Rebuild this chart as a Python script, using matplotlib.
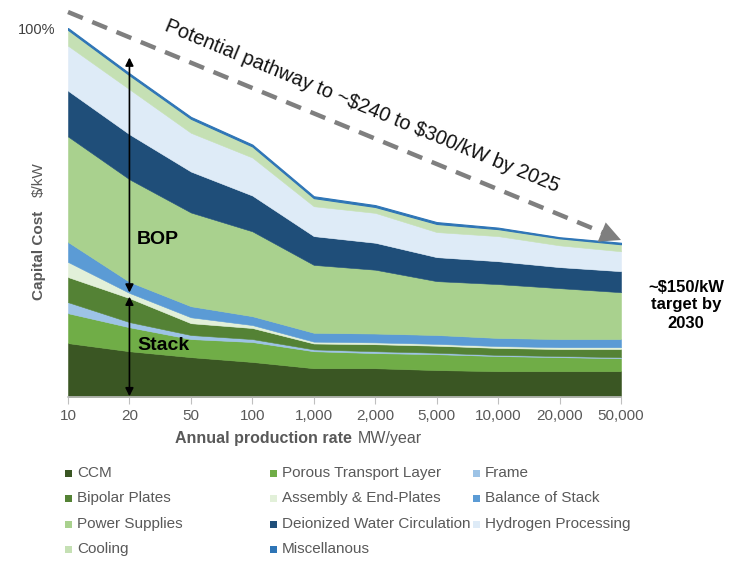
import matplotlib
matplotlib.use("Agg")
import matplotlib.pyplot as plt
from matplotlib.patches import Rectangle, FancyArrowPatch
from matplotlib.lines import Line2D

plt.rcParams['font.family'] = ['Liberation Sans', 'DejaVu Sans']

rates = ["10", "20", "50", "100", "1,000", "2,000", "5,000", "10,000", "20,000", "50,000"]
ccm      = [14.6, 12.4, 10.8, 9.5, 7.8, 7.8, 7.3, 7.0, 7.0, 7.0]
ptl      = [8.1, 6.5, 4.9, 5.4, 4.6, 4.1, 4.3, 4.1, 3.8, 3.5]
frame    = [3.0, 1.4, 1.1, 0.8, 0.5, 0.5, 0.4, 0.3, 0.3, 0.3]
bipolar  = [6.8, 6.5, 3.2, 3.0, 1.6, 1.9, 1.9, 1.9, 1.9, 2.2]
assembly = [4.1, 1.4, 1.6, 0.8, 0.5, 0.5, 0.5, 0.5, 0.5, 0.5]
bos      = [5.4, 3.0, 3.0, 2.4, 2.4, 2.4, 2.4, 2.2, 2.2, 2.2]
power    = [28.6, 27.8, 25.4, 23.0, 18.4, 17.3, 14.6, 14.6, 13.8, 12.7]
diwater  = [12.4, 12.2, 11.1, 9.7, 7.8, 7.3, 6.5, 6.2, 5.7, 5.7]
h2proc   = [12.2, 12.2, 10.5, 10.3, 8.1, 8.1, 6.8, 6.8, 5.9, 5.4]
cooling  = [4.3, 3.8, 3.8, 3.0, 2.2, 1.6, 2.2, 1.9, 1.9, 1.9]
misc     = [0.5, 0.5, 0.5, 0.5, 0.5, 0.5, 0.5, 0.4, 0.3, 0.4]

labels = ["CCM", "Porous Transport Layer", "Frame", "Bipolar Plates",
          "Assembly & End-Plates", "Balance of Stack", "Power Supplies",
          "Deionized Water Circulation", "Hydrogen Processing", "Cooling",
          "Miscellanous"]
series = [ccm, ptl, frame, bipolar, assembly, bos, power, diwater, h2proc, cooling, misc]
colors = ["#3A5623", "#70AD47", "#9DC3E6", "#548235", "#E2F0D9", "#5B9BD5",
          "#A9D18E", "#1F4E79", "#DEEBF7", "#C5E0B4", "#2E75B6"]

W, H = 742, 561
fig = plt.figure(figsize=(W / 100, H / 100), dpi=100)

def fx(px):
    return px / W

def fy(py):
    return 1 - py / H

ax = fig.add_axes([fx(68), fy(397), fx(621) - fx(68), fy(28) - fy(397)])
x = list(range(len(rates)))
polys = ax.stackplot(x, *series, colors=colors, labels=labels)
for p, c in zip(polys, colors):
    p.set_edgecolor(c)
    p.set_linewidth(0.4)
polys[-1].set_linewidth(0.8)

ax.set_xlim(0, len(rates) - 1)
ax.set_ylim(0, 100)
ax.set_xticks(x)
ax.set_xticklabels(rates, fontsize=11, color="#595959")
ax.set_yticks([100])
ax.set_yticklabels(["100%"], fontsize=10.5, color="#404040")
ax.tick_params(axis="y", length=0, pad=9)
ax.tick_params(axis="x", length=5, color="#BFBFBF", pad=4)
for s in ["top", "right", "left"]:
    ax.spines[s].set_visible(False)
ax.spines["bottom"].set_color("#BFBFBF")
ax.spines["bottom"].set_linewidth(1.2)
ax.set_facecolor("none")

# BOP / Stack arrows
ax.annotate("", xy=(1, 28.3), xytext=(1, 92.0),
            arrowprops=dict(arrowstyle="<|-|>", color="black", lw=1.2,
                            mutation_scale=12, shrinkA=0, shrinkB=0))
ax.annotate("", xy=(1, 0.2), xytext=(1, 27.2),
            arrowprops=dict(arrowstyle="<|-|>", color="black", lw=1.2,
                            mutation_scale=12, shrinkA=0, shrinkB=0))
fig.text(fx(137), fy(239), "BOP", fontsize=14, fontweight="bold", ha="left", va="center")
fig.text(fx(137), fy(345), "Stack", fontsize=14, fontweight="bold", ha="left", va="center")

# Dashed pathway arrow
x0, y0, x1, y1 = 68, 12, 621, 240
dx, dy = x1 - x0, y1 - y0
L = (dx ** 2 + dy ** 2) ** 0.5
ux, uy = dx / L, dy / L
hx, hy = x1 - 16 * ux, y1 - 16 * uy
fig.add_artist(Line2D([fx(x0), fx(hx)], [fy(y0), fy(hy)], color="#7F7F7F", lw=3.2,
                      linestyle=(0, (3.6, 2.3)), transform=fig.transFigure))
fig.add_artist(FancyArrowPatch(
    (fx(hx - 2 * ux), fy(hy - 2 * uy)), (fx(x1), fy(y1)), transform=fig.transFigure,
    arrowstyle="simple,head_length=1.0,head_width=1.0,tail_width=0.3",
    mutation_scale=15, color="#7F7F7F", lw=0, shrinkA=0, shrinkB=0))
fig.text(fx(362), fy(106), r"Potential pathway to ~\$240 to \$300/kW by 2025",
         fontsize=14.4, rotation=-22.4, rotation_mode="anchor",
         ha="center", va="center", color="#111111")

# Target text
fig.text(fx(686), fy(305), "~\\$150/kW\ntarget by\n2030", fontsize=12, fontweight="bold",
         ha="center", va="center", linespacing=1.25)

# Axis titles
fig.text(fx(352), fy(438), "Annual production rate", fontsize=11.5, fontweight="bold",
         color="#595959", ha="right", va="center")
fig.text(fx(358), fy(438), "MW/year", fontsize=11.5, color="#595959", ha="left", va="center")
fig.text(fx(39), fy(300), "Capital Cost", fontsize=11, fontweight="bold",
         color="#595959", rotation=90, ha="center", va="bottom")
fig.text(fx(39), fy(197), r"\$/kW", fontsize=11, color="#595959",
         rotation=90, ha="center", va="bottom")

# Legend (3 columns x 4 rows, row-major as in the reference)
col_marker = [68, 273, 476]
col_text = [77, 282, 485]
row_y = [473, 498, 524, 549]
for i, (lab, c) in enumerate(zip(labels, colors)):
    r, k = divmod(i, 3)
    fig.add_artist(Rectangle((fx(col_marker[k] - 3.5), fy(row_y[r] + 3.5)), 7 / W, 7 / H,
                             transform=fig.transFigure, facecolor=c, edgecolor="none"))
    fig.text(fx(col_text[k]), fy(row_y[r]), lab, fontsize=11, color="#595959",
             ha="left", va="center")

fig.savefig("out.png", dpi=100)
